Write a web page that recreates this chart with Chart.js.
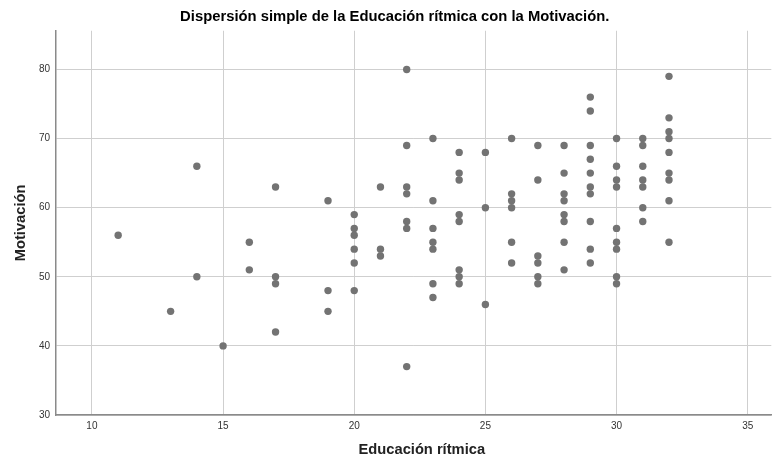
<!DOCTYPE html>
<html>
<head>
<meta charset="utf-8">
<script src="https://cdn.jsdelivr.net/npm/chart.js@4"></script>
<style>
  html, body { margin: 0; padding: 0; background: #fff; }
  #wrap { width: 775px; height: 459px; position: relative; }
</style>
</head>
<body>
<div id="wrap"><canvas id="c"></canvas></div>
<script>
const educacionRitmica = [
  11, 13, 14, 14, 15, 16, 16, 17, 17, 17, 17,
  19, 19, 19,
  20, 20, 20, 20, 20, 20,
  21, 21, 21,
  22, 22, 22, 22, 22, 22, 22,
  23, 23, 23, 23, 23, 23, 23,
  24, 24, 24, 24, 24, 24, 24, 24,
  25, 25, 25,
  26, 26, 26, 26, 26, 26,
  27, 27, 27, 27, 27, 27,
  28, 28, 28, 28, 28, 28, 28, 28,
  29, 29, 29, 29, 29, 29, 29, 29, 29, 29,
  30, 30, 30, 30, 30, 30, 30, 30, 30,
  31, 31, 31, 31, 31, 31, 31,
  32, 32, 32, 32, 32, 32, 32, 32, 32
];
const motivacion = [
  56, 45, 66, 50, 40, 55, 51, 63, 50, 49, 42,
  61, 48, 45,
  59, 57, 56, 54, 52, 48,
  63, 54, 53,
  80, 69, 63, 62, 58, 57, 37,
  70, 61, 57, 55, 54, 49, 47,
  68, 65, 64, 59, 58, 51, 50, 49,
  68, 60, 46,
  70, 62, 61, 60, 55, 52,
  69, 64, 53, 52, 50, 49,
  69, 65, 62, 61, 59, 58, 55, 51,
  76, 74, 69, 67, 65, 63, 62, 58, 54, 52,
  70, 66, 64, 63, 57, 55, 54, 50, 49,
  70, 69, 66, 64, 63, 60, 58,
  79, 73, 71, 70, 68, 65, 64, 61, 55
];
const xTicks = [10, 15, 20, 25, 30, 35];
const yTicks = [30, 40, 50, 60, 70, 80];

const titleText = 'Dispersión simple de la Educación rítmica con la Motivación.';
const xTitle = 'Educación rítmica';
const yTitle = 'Motivación';

const points = educacionRitmica.map((x, i) => ({ x: x, y: motivacion[i] }));

const FONT = '"Liberation Sans", Arial, sans-serif';

new Chart(document.getElementById('c'), {
  type: 'scatter',
  data: {
    datasets: [{
      data: points,
      backgroundColor: '#737373',
      borderColor: '#737373',
      borderWidth: 0,
      pointRadius: 3.7,
      pointHoverRadius: 3.7
    }]
  },
  options: {
    responsive: true,
    maintainAspectRatio: false,
    animation: false,
    layout: { padding: { left: 0, right: 2, top: 0, bottom: 0 } },
    plugins: {
      legend: { display: false },
      tooltip: { enabled: false },
      title: {
        display: true,
        text: '    ' + titleText,
        color: '#000',
        font: { family: FONT, size: 14.8, weight: 'bold' },
        padding: { top: 8, bottom: 5 }
      }
    },
    scales: {
      x: {
        type: 'linear',
        min: 8.63,
        max: 35.9,
        afterBuildTicks: (s) => { s.ticks = xTicks.map(v => ({ value: v })); },
        afterFit: (s) => { s.height = 44; },
        ticks: {
          includeBounds: false,
          color: '#333',
          font: { family: FONT, size: 10 },
          padding: 5,
          maxRotation: 0
        },
        grid: { color: '#cfcfcf', lineWidth: 1, drawTicks: false },
        border: { color: '#8a8a8a', width: 1.5 },
        title: {
          display: true,
          text: '    ' + xTitle,
          color: '#222',
          font: { family: FONT, size: 14.7, weight: 'bold' },
          padding: { top: 10, bottom: 0 }
        }
      },
      y: {
        type: 'linear',
        min: 30,
        max: 85.6,
        afterBuildTicks: (s) => { s.ticks = yTicks.map(v => ({ value: v })); },
        afterFit: (s) => { s.width = 56; },
        ticks: {
          includeBounds: false,
          color: '#333',
          font: { family: FONT, size: 10 },
          padding: 6
        },
        grid: { color: '#cfcfcf', lineWidth: 1, drawTicks: false },
        border: { color: '#8a8a8a', width: 1.5 },
        title: {
          display: true,
          text: yTitle,
          color: '#222',
          font: { family: FONT, size: 14.7, weight: 'bold' },
          padding: { top: 12, bottom: 0 }
        }
      }
    }
  }
});
</script>
</body>
</html>
